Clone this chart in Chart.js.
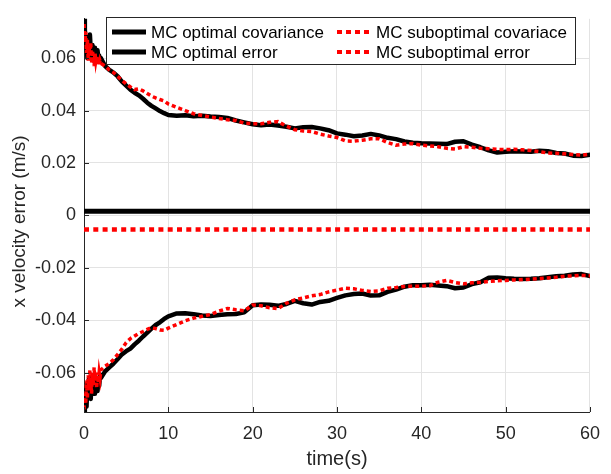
<!DOCTYPE html>
<html>
<head>
<meta charset="utf-8">
<script src="https://cdn.jsdelivr.net/npm/chart.js@4.4.1/dist/chart.umd.min.js"></script>
<style>
  html, body { margin: 0; padding: 0; background: #fff; }
  #wrap { width: 611px; height: 474px; }
</style>
</head>
<body>
<div id="wrap"><canvas id="chart" width="611" height="474"></canvas></div>
<script>
// --- data ---
const TIME = [0, 0.1, 0.2, 0.3, 0.4, 0.5, 0.6, 0.7, 0.8, 0.9, 1.0, 1.1, 1.2, 1.3, 1.4, 1.5, 1.6, 1.7, 1.8, 1.9, 2.0,
  2.5, 3, 3.5, 4, 4.5, 5, 5.5, 6, 6.5, 7, 7.5, 8, 8.5, 9, 9.5, 10,
  11, 12, 13, 14, 15, 16, 17, 18, 19, 20, 21, 22, 23, 24, 25, 26, 27, 28, 29, 30,
  31, 32, 33, 34, 35, 36, 37, 38, 39, 40, 41, 42, 43, 44, 45, 46, 47, 48, 49, 50,
  51, 52, 53, 54, 55, 56, 57, 58, 59, 60];

// MC optimal covariance (upper / lower bound)
const OPT_UP = [0.075, 0.071, 0.064, 0.068, 0.060, 0.066, 0.062, 0.069, 0.063, 0.060, 0.065, 0.061, 0.064, 0.059, 0.062, 0.060, 0.063, 0.060, 0.061, 0.059, 0.060,
  0.057, 0.0555, 0.0545, 0.053, 0.051, 0.0495, 0.048, 0.0468, 0.0458, 0.0445, 0.043, 0.0418, 0.0408, 0.0398, 0.039, 0.0383,
  0.038, 0.0382, 0.0378, 0.038, 0.0377, 0.0375, 0.0372, 0.0362, 0.0355, 0.0348, 0.0344, 0.0347, 0.0343, 0.0338, 0.0332, 0.0336, 0.0337, 0.0332, 0.0325, 0.0313,
  0.0308, 0.0302, 0.0305, 0.0311, 0.0305, 0.0296, 0.0291, 0.0282, 0.0277, 0.0275, 0.0274, 0.0273, 0.0272, 0.0281, 0.0283, 0.027, 0.026, 0.0248, 0.024, 0.0243,
  0.0245, 0.0244, 0.0243, 0.0247, 0.0245, 0.0238, 0.0236, 0.0228, 0.0227, 0.0231];
const OPT_LO = [-0.075, -0.071, -0.066, -0.073, -0.064, -0.069, -0.062, -0.066, -0.070, -0.063, -0.067, -0.061, -0.068, -0.064, -0.066, -0.062, -0.067, -0.063, -0.065, -0.061, -0.062,
  -0.0595, -0.058, -0.0565, -0.0548, -0.053, -0.0518, -0.0508, -0.0492, -0.0478, -0.0462, -0.0447, -0.0432, -0.0418, -0.0408, -0.0395, -0.0385,
  -0.0374, -0.0373, -0.0377, -0.0382, -0.0384, -0.038, -0.0377, -0.0376, -0.037, -0.0343, -0.034, -0.0341, -0.0345, -0.0338, -0.0326, -0.0335, -0.034, -0.033, -0.0326, -0.0315,
  -0.0305, -0.03, -0.0298, -0.0306, -0.0305, -0.0292, -0.0283, -0.0272, -0.0266, -0.0266, -0.0265, -0.0267, -0.027, -0.0278, -0.0275, -0.0262, -0.0255, -0.0238, -0.0237, -0.024,
  -0.0242, -0.0243, -0.0242, -0.024, -0.0236, -0.0232, -0.023, -0.0225, -0.0224, -0.0231];

// MC suboptimal covariance (upper / lower bound)
const SUB_UP = [0.073, 0.066, 0.070, 0.062, 0.067, 0.059, 0.064, 0.061, 0.066, 0.058, 0.063, 0.060, 0.057, 0.062, 0.059, 0.061, 0.058, 0.060, 0.057, 0.059, 0.058,
  0.057, 0.0555, 0.0545, 0.053, 0.0515, 0.0502, 0.049, 0.048, 0.0483, 0.0475, 0.0465, 0.0455, 0.0448, 0.0442, 0.0437, 0.0425,
  0.0412, 0.040, 0.0388, 0.0381, 0.0375, 0.037, 0.0365, 0.0362, 0.0352, 0.035, 0.035, 0.0355, 0.0358, 0.034, 0.0327, 0.0322, 0.032, 0.031, 0.0303, 0.0297,
  0.0284, 0.0283, 0.0287, 0.0292, 0.0292, 0.0278, 0.0268, 0.0272, 0.0274, 0.0268, 0.0265, 0.0262, 0.0256, 0.0253, 0.0262, 0.026, 0.0256, 0.0254, 0.0252, 0.0251,
  0.0252, 0.025, 0.0248, 0.0243, 0.0238, 0.0237, 0.0235, 0.0232, 0.023, 0.0233];
const SUB_LO = [-0.074, -0.068, -0.072, -0.063, -0.070, -0.061, -0.066, -0.059, -0.064, -0.068, -0.060, -0.065, -0.058, -0.063, -0.060, -0.066, -0.061, -0.064, -0.060, -0.062, -0.059,
  -0.0575, -0.0565, -0.055, -0.053, -0.051, -0.0485, -0.047, -0.046, -0.045, -0.0443, -0.0435, -0.0428, -0.0432, -0.0437, -0.0438, -0.043,
  -0.0416, -0.0402, -0.0392, -0.0385, -0.0378, -0.0365, -0.0355, -0.036, -0.0364, -0.0342, -0.0345, -0.0352, -0.0356, -0.0335, -0.0322, -0.0315, -0.0307, -0.0302, -0.0292, -0.0285,
  -0.0278, -0.028, -0.0286, -0.029, -0.0288, -0.0278, -0.0275, -0.0271, -0.027, -0.027, -0.0268, -0.0255, -0.0248, -0.0256, -0.0261, -0.0257, -0.0255, -0.0252, -0.0249, -0.0248,
  -0.0246, -0.0245, -0.0243, -0.0241, -0.0239, -0.0236, -0.0232, -0.0231, -0.0229, -0.023];

// mean errors (flat over the whole run)
const ERR_TIME = [0, 60];
const OPT_ERR = [0.0016, 0.0016];
const SUB_ERR = [-0.0054, -0.0054];

const X_TICKS = [0, 10, 20, 30, 40, 50, 60];
const Y_TICKS = [-0.06, -0.04, -0.02, 0, 0.02, 0.04, 0.06];

const LEGEND_ITEMS = [
  { label: 'MC optimal covariance', col: 0, row: 0, red: false },
  { label: 'MC optimal error', col: 0, row: 1, red: false },
  { label: 'MC suboptimal covariace', col: 1, row: 0, red: true },
  { label: 'MC suboptimal error', col: 1, row: 1, red: true }
];

const AXIS_COLOR = '#262626';
const GRID_COLOR = '#e3e3e3';
const FONT = '"Liberation Sans", Arial, Helvetica, sans-serif';

const toPts = (xs, ys) => xs.map((t, i) => ({ x: t, y: ys[i] }));

const blackLine = (label, xs, ys, w) => ({
  label, data: toPts(xs, ys), borderColor: '#000', borderWidth: w,
  pointRadius: 0, tension: 0, borderJoinStyle: 'round', borderCapStyle: 'round', order: 1
});
const redLine = (label, xs, ys, w) => ({
  label, data: toPts(xs, ys), borderColor: '#ff0000', borderWidth: w,
  borderDash: [4, 3], borderCapStyle: 'butt',
  pointRadius: 0, tension: 0, order: 0
});

// --- legend, axis titles, inward ticks ---
const decorPlugin = {
  id: 'decor',
  afterDraw(chart) {
    const ctx = chart.ctx;
    const area = chart.chartArea;
    const xs = chart.scales.x, ys = chart.scales.y;
    ctx.save();

    // inward tick marks
    ctx.strokeStyle = AXIS_COLOR;
    ctx.lineWidth = 1;
    ctx.beginPath();
    Y_TICKS.forEach(v => {
      const y = Math.round(ys.getPixelForValue(v)) + 0.5;
      ctx.moveTo(area.left, y); ctx.lineTo(area.left + 5, y);
    });
    X_TICKS.forEach(v => {
      const x = Math.round(xs.getPixelForValue(v)) + 0.5;
      ctx.moveTo(x, area.bottom); ctx.lineTo(x, area.bottom - 5);
    });
    ctx.stroke();

    // axis titles
    ctx.fillStyle = AXIS_COLOR;
    ctx.font = '20px ' + FONT;
    ctx.textAlign = 'center';
    ctx.textBaseline = 'middle';
    ctx.fillText('time(s)', (area.left + area.right) / 2, 459);
    ctx.font = '19px ' + FONT;
    ctx.translate(20, (area.top + area.bottom) / 2 + 6);
    ctx.rotate(-Math.PI / 2);
    ctx.fillText('x velocity error (m/s)', 0, 0);
    ctx.setTransform(1, 0, 0, 1, 0, 0);

    // legend box
    const bx = 106.5, by = 17.5, bw = 469, bh = 47;
    ctx.fillStyle = '#fff';
    ctx.fillRect(bx, by, bw, bh);
    ctx.strokeStyle = AXIS_COLOR;
    ctx.lineWidth = 1;
    ctx.strokeRect(bx, by, bw, bh);

    const colX = [112, 337];
    const colTxt = [151, 376];
    const rowY = [32, 52];
    ctx.font = '17px ' + FONT;
    ctx.textAlign = 'left';
    ctx.textBaseline = 'middle';
    LEGEND_ITEMS.forEach(it => {
      const y = rowY[it.row];
      ctx.beginPath();
      if (it.red) {
        ctx.strokeStyle = '#ff0000';
        ctx.lineWidth = 4;
        ctx.setLineDash([5, 4]);
        ctx.moveTo(colX[it.col], y); ctx.lineTo(colX[it.col] + 33, y);
      } else {
        ctx.strokeStyle = '#000';
        ctx.lineWidth = 5;
        ctx.setLineDash([]);
        ctx.moveTo(colX[it.col], y); ctx.lineTo(colX[it.col] + 34, y);
      }
      ctx.stroke();
      ctx.setLineDash([]);
      ctx.fillStyle = '#000';
      ctx.fillText(it.label, colTxt[it.col], y + 1);
    });
    ctx.restore();
  }
};

new Chart(document.getElementById('chart'), {
  type: 'line',
  data: {
    datasets: [
      redLine('MC suboptimal covariace', TIME, SUB_UP, 3.5),
      redLine('MC suboptimal covariace', TIME, SUB_LO, 3.5),
      Object.assign(redLine('MC suboptimal error', ERR_TIME, SUB_ERR, 4.5), { borderDash: [5, 4.3] }),
      blackLine('MC optimal covariance', TIME, OPT_UP, 4.5),
      blackLine('MC optimal covariance', TIME, OPT_LO, 4.5),
      blackLine('MC optimal error', ERR_TIME, OPT_ERR, 5)
    ]
  },
  options: {
    responsive: false,
    animation: false,
    devicePixelRatio: 1,
    layout: { padding: { top: 7, right: 12, left: 0, bottom: 0 } },
    plugins: { legend: { display: false }, tooltip: { enabled: false } },
    scales: {
      x: {
        type: 'linear', min: 0, max: 60,
        afterBuildTicks: s => { s.ticks = X_TICKS.map(v => ({ value: v })); },
        afterFit: s => { s.height = 62; },
        ticks: { color: AXIS_COLOR, font: { family: FONT, size: 18 }, padding: 11, maxRotation: 0, autoSkip: false,
          callback: v => String(v) },
        grid: { color: GRID_COLOR, lineWidth: 1, drawTicks: false },
        border: { display: true, color: AXIS_COLOR, width: 1 }
      },
      y: {
        type: 'linear', min: -0.075, max: 0.075,
        afterBuildTicks: s => { s.ticks = Y_TICKS.map(v => ({ value: v })); },
        afterFit: s => { s.width = 84; },
        ticks: { color: AXIS_COLOR, font: { family: FONT, size: 18 }, padding: 8,
          callback: v => (Math.abs(v) < 1e-9 ? '0' : v.toFixed(2)) },
        grid: { color: GRID_COLOR, lineWidth: 1, drawTicks: false },
        border: { display: true, color: AXIS_COLOR, width: 1 }
      }
    }
  },
  plugins: [decorPlugin]
});
</script>
</body>
</html>
